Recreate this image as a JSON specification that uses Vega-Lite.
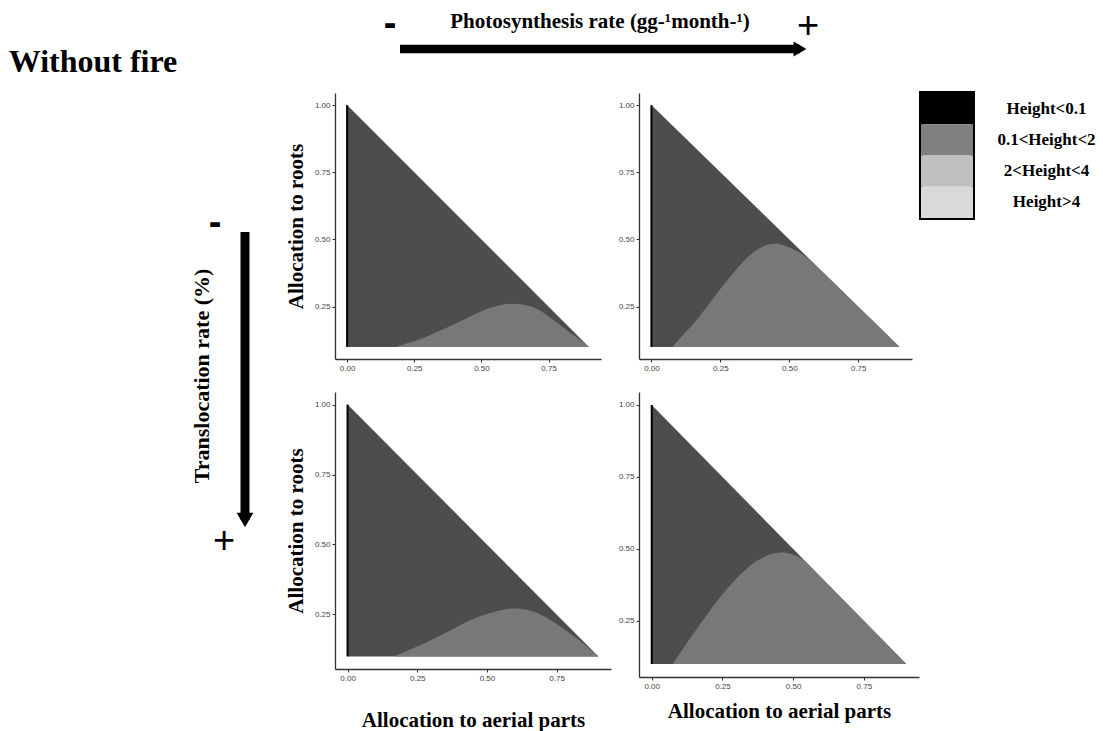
{
  "$schema": "https://vega.github.io/schema/vega-lite/v6.json",
  "background": "white",
  "padding": {"left": 0, "top": 6, "right": 2, "bottom": 2},
  "datasets": {
    "ends": [{"end": "-", "pos": 0}, {"end": "+", "pos": 1}],
    "titles": [{"label": "Without fire"}],
    "classes": [{"h": "Height<0.1"}, {"h": "0.1<Height<2"}, {"h": "2<Height<4"}, {"h": "Height>4"}],
    "regions": [
      {"p": "A", "part": "base", "a": 0, "r": 1.0},
      {"p": "A", "part": "base", "a": 0.9, "r": 0.1},
      {"p": "A", "part": "edge", "a": 0, "r": 0.1, "r2": 1.0},
      {"p": "A", "part": "hump", "a": 0.182, "r": 0.1},
      {"p": "A", "part": "hump", "a": 0.23, "r": 0.115},
      {"p": "A", "part": "hump", "a": 0.281, "r": 0.132},
      {"p": "A", "part": "hump", "a": 0.34, "r": 0.158},
      {"p": "A", "part": "hump", "a": 0.406, "r": 0.188},
      {"p": "A", "part": "hump", "a": 0.45, "r": 0.209},
      {"p": "A", "part": "hump", "a": 0.49, "r": 0.229},
      {"p": "A", "part": "hump", "a": 0.53, "r": 0.245},
      {"p": "A", "part": "hump", "a": 0.58, "r": 0.258},
      {"p": "A", "part": "hump", "a": 0.62, "r": 0.262},
      {"p": "A", "part": "hump", "a": 0.66, "r": 0.258},
      {"p": "A", "part": "hump", "a": 0.691, "r": 0.25},
      {"p": "A", "part": "hump", "a": 0.72, "r": 0.235},
      {"p": "A", "part": "hump", "a": 0.745, "r": 0.217},
      {"p": "A", "part": "hump", "a": 0.77, "r": 0.198},
      {"p": "A", "part": "hump", "a": 0.795, "r": 0.18},
      {"p": "A", "part": "hump", "a": 0.82, "r": 0.16},
      {"p": "A", "part": "hump", "a": 0.853, "r": 0.138},
      {"p": "A", "part": "hump", "a": 0.9, "r": 0.1},
      {"p": "B", "part": "base", "a": 0, "r": 1.0},
      {"p": "B", "part": "base", "a": 0.9, "r": 0.1},
      {"p": "B", "part": "edge", "a": 0, "r": 0.1, "r2": 1.0},
      {"p": "B", "part": "hump", "a": 0.077, "r": 0.1},
      {"p": "B", "part": "hump", "a": 0.11, "r": 0.14},
      {"p": "B", "part": "hump", "a": 0.15, "r": 0.182},
      {"p": "B", "part": "hump", "a": 0.18, "r": 0.222},
      {"p": "B", "part": "hump", "a": 0.21, "r": 0.262},
      {"p": "B", "part": "hump", "a": 0.24, "r": 0.302},
      {"p": "B", "part": "hump", "a": 0.271, "r": 0.343},
      {"p": "B", "part": "hump", "a": 0.3, "r": 0.38},
      {"p": "B", "part": "hump", "a": 0.331, "r": 0.417},
      {"p": "B", "part": "hump", "a": 0.36, "r": 0.445},
      {"p": "B", "part": "hump", "a": 0.391, "r": 0.467},
      {"p": "B", "part": "hump", "a": 0.415, "r": 0.479},
      {"p": "B", "part": "hump", "a": 0.445, "r": 0.486},
      {"p": "B", "part": "hump", "a": 0.476, "r": 0.481},
      {"p": "B", "part": "hump", "a": 0.512, "r": 0.465},
      {"p": "B", "part": "hump", "a": 0.55, "r": 0.446},
      {"p": "B", "part": "hump", "a": 0.6, "r": 0.4},
      {"p": "B", "part": "hump", "a": 0.7, "r": 0.3},
      {"p": "B", "part": "hump", "a": 0.8, "r": 0.2},
      {"p": "B", "part": "hump", "a": 0.9, "r": 0.1},
      {"p": "C", "part": "base", "a": 0, "r": 1.0},
      {"p": "C", "part": "base", "a": 0.9, "r": 0.1},
      {"p": "C", "part": "edge", "a": 0, "r": 0.1, "r2": 1.0},
      {"p": "C", "part": "hump", "a": 0.167, "r": 0.1},
      {"p": "C", "part": "hump", "a": 0.215, "r": 0.12},
      {"p": "C", "part": "hump", "a": 0.263, "r": 0.14},
      {"p": "C", "part": "hump", "a": 0.32, "r": 0.168},
      {"p": "C", "part": "hump", "a": 0.382, "r": 0.2},
      {"p": "C", "part": "hump", "a": 0.42, "r": 0.22},
      {"p": "C", "part": "hump", "a": 0.454, "r": 0.236},
      {"p": "C", "part": "hump", "a": 0.502, "r": 0.254},
      {"p": "C", "part": "hump", "a": 0.562, "r": 0.269},
      {"p": "C", "part": "hump", "a": 0.6, "r": 0.273},
      {"p": "C", "part": "hump", "a": 0.64, "r": 0.268},
      {"p": "C", "part": "hump", "a": 0.669, "r": 0.26},
      {"p": "C", "part": "hump", "a": 0.695, "r": 0.25},
      {"p": "C", "part": "hump", "a": 0.717, "r": 0.236},
      {"p": "C", "part": "hump", "a": 0.74, "r": 0.222},
      {"p": "C", "part": "hump", "a": 0.765, "r": 0.206},
      {"p": "C", "part": "hump", "a": 0.795, "r": 0.185},
      {"p": "C", "part": "hump", "a": 0.824, "r": 0.164},
      {"p": "C", "part": "hump", "a": 0.86, "r": 0.135},
      {"p": "C", "part": "hump", "a": 0.9, "r": 0.1},
      {"p": "D", "part": "base", "a": 0, "r": 1.0},
      {"p": "D", "part": "base", "a": 0.9, "r": 0.1},
      {"p": "D", "part": "edge", "a": 0, "r": 0.1, "r2": 1.0},
      {"p": "D", "part": "hump", "a": 0.074, "r": 0.1},
      {"p": "D", "part": "hump", "a": 0.105, "r": 0.145},
      {"p": "D", "part": "hump", "a": 0.139, "r": 0.194},
      {"p": "D", "part": "hump", "a": 0.168, "r": 0.235},
      {"p": "D", "part": "hump", "a": 0.198, "r": 0.275},
      {"p": "D", "part": "hump", "a": 0.228, "r": 0.315},
      {"p": "D", "part": "hump", "a": 0.257, "r": 0.351},
      {"p": "D", "part": "hump", "a": 0.286, "r": 0.384},
      {"p": "D", "part": "hump", "a": 0.316, "r": 0.414},
      {"p": "D", "part": "hump", "a": 0.345, "r": 0.44},
      {"p": "D", "part": "hump", "a": 0.375, "r": 0.461},
      {"p": "D", "part": "hump", "a": 0.405, "r": 0.477},
      {"p": "D", "part": "hump", "a": 0.434, "r": 0.486},
      {"p": "D", "part": "hump", "a": 0.465, "r": 0.489},
      {"p": "D", "part": "hump", "a": 0.495, "r": 0.482},
      {"p": "D", "part": "hump", "a": 0.516, "r": 0.474},
      {"p": "D", "part": "hump", "a": 0.535, "r": 0.463},
      {"p": "D", "part": "hump", "a": 0.56, "r": 0.44},
      {"p": "D", "part": "hump", "a": 0.6, "r": 0.4},
      {"p": "D", "part": "hump", "a": 0.7, "r": 0.3},
      {"p": "D", "part": "hump", "a": 0.8, "r": 0.2},
      {"p": "D", "part": "hump", "a": 0.9, "r": 0.1}
    ]
  },
  "spacing": 4,
  "hconcat": [
    {
      "width": 186,
      "height": 104,
      "data": {"name": "titles"},
      "mark": {"type": "text", "fontSize": 32, "align": "center", "baseline": "middle"},
      "encoding": {"text": {"field": "label"}}
    },
    {
      "spacing": 3,
      "vconcat": [
        {
          "width": 640,
          "height": 78,
          "data": {"name": "ends"},
          "encoding": {
            "x": {"field": "pos", "type": "quantitative", "scale": {"domain": [0, 1], "range": [195, 595]}, "axis": null}
          },
          "layer": [
            {"mark": {"type": "line", "color": "#000", "strokeWidth": 8.5, "strokeCap": "butt"}},
            {"transform": [{"filter": "datum.pos == 1"}], "mark": {"type": "point", "shape": "triangle-right", "filled": true, "size": 220, "color": "#000", "opacity": 1}},
            {"transform": [{"filter": "datum.pos == 0"}], "mark": {"type": "text", "font": "Liberation Sans", "fontSize": 38, "fontWeight": "bold", "baseline": "middle", "dx": -10, "dy": -24}, "encoding": {"text": {"field": "end"}}},
            {"transform": [{"filter": "datum.pos == 1"}], "mark": {"type": "text", "font": "Liberation Sans", "fontSize": 38, "fontWeight": "normal", "baseline": "middle", "dx": 8, "dy": -22}, "encoding": {"text": {"field": "end"}}},
            {"transform": [{"filter": "datum.pos == 0"}], "mark": {"type": "text", "fontSize": 21, "baseline": "middle", "dy": -27}, "encoding": {"x": {"datum": 0.5}, "text": {"value": "Photosynthesis rate (gg-¹month-¹)"}}}
          ]
        },
        {
          "spacing": 0,
          "hconcat": [
            {
              "width": 80,
              "height": 584,
              "data": {"name": "ends"},
              "encoding": {
                "y": {"field": "pos", "type": "quantitative", "scale": {"domain": [0, 1], "range": [139, 427]}, "axis": null}
              },
              "layer": [
                {"mark": {"type": "line", "color": "#000", "strokeWidth": 9, "strokeCap": "butt"}},
                {"transform": [{"filter": "datum.pos == 1"}], "mark": {"type": "point", "shape": "triangle-down", "filled": true, "size": 280, "color": "#000", "opacity": 1}},
                {"transform": [{"filter": "datum.pos == 0"}], "mark": {"type": "text", "font": "Liberation Sans", "fontSize": 38, "fontWeight": "bold", "baseline": "middle", "dx": -30, "dy": -8}, "encoding": {"text": {"field": "end"}}},
                {"transform": [{"filter": "datum.pos == 1"}], "mark": {"type": "text", "font": "Liberation Sans", "fontSize": 38, "fontWeight": "normal", "baseline": "middle", "dx": -21, "dy": 22}, "encoding": {"text": {"field": "end"}}},
                {"transform": [{"filter": "datum.pos == 0"}], "mark": {"type": "text", "fontSize": 22, "angle": 270, "baseline": "middle", "dy": -43}, "encoding": {"y": {"datum": 0.5}, "text": {"value": "Translocation rate (%)"}}}
              ]
            },
            {
              "columns": 2,
              "bounds": "flush",
              "align": "each",
              "spacing": {"row": 33, "column": 28},
              "concat": [
                {
                  "width": 266, "height": 266,
                  "data": {"name": "regions"},
                  "transform": [{"filter": "datum.p == 'A'"}],
                  "encoding": {
                    "x": {"field": "a", "type": "quantitative", "scale": {"domain": [-0.045, 0.945], "nice": false, "zero": false}, "axis": {"values": [0, 0.25, 0.5, 0.75], "format": ".2f", "title": null}},
                    "y": {"field": "r", "type": "quantitative", "scale": {"domain": [0.055, 1.045], "nice": false, "zero": false}, "axis": {"values": [0.25, 0.5, 0.75, 1], "format": ".2f", "title": "Allocation to roots", "titlePadding": 8}}
                  },
                  "layer": [
                    {"transform": [{"filter": "datum.part == 'base'"}], "mark": {"type": "area", "color": "#4d4d4d"}, "encoding": {"y2": {"datum": 0.1}}},
                    {"transform": [{"filter": "datum.part == 'hump'"}], "mark": {"type": "area", "color": "#787878", "interpolate": "basis"}, "encoding": {"y2": {"datum": 0.1}}},
                    {"transform": [{"filter": "datum.part == 'edge'"}], "mark": {"type": "rule", "color": "#000", "strokeWidth": 2}, "encoding": {"y2": {"field": "r2"}}}
                  ]
                },
                {
                  "width": 273, "height": 266,
                  "data": {"name": "regions"},
                  "transform": [{"filter": "datum.p == 'B'"}],
                  "encoding": {
                    "x": {"field": "a", "type": "quantitative", "scale": {"domain": [-0.045, 0.945], "nice": false, "zero": false}, "axis": {"values": [0, 0.25, 0.5, 0.75], "format": ".2f", "title": null}},
                    "y": {"field": "r", "type": "quantitative", "scale": {"domain": [0.055, 1.045], "nice": false, "zero": false}, "axis": {"values": [0.25, 0.5, 0.75, 1], "format": ".2f", "title": null}}
                  },
                  "layer": [
                    {"transform": [{"filter": "datum.part == 'base'"}], "mark": {"type": "area", "color": "#4d4d4d"}, "encoding": {"y2": {"datum": 0.1}}},
                    {"transform": [{"filter": "datum.part == 'hump'"}], "mark": {"type": "area", "color": "#787878", "interpolate": "basis"}, "encoding": {"y2": {"datum": 0.1}}},
                    {"transform": [{"filter": "datum.part == 'edge'"}], "mark": {"type": "rule", "color": "#000", "strokeWidth": 2}, "encoding": {"y2": {"field": "r2"}}}
                  ]
                },
                {
                  "width": 276, "height": 277,
                  "data": {"name": "regions"},
                  "transform": [{"filter": "datum.p == 'C'"}],
                  "encoding": {
                    "x": {"field": "a", "type": "quantitative", "scale": {"domain": [-0.045, 0.945], "nice": false, "zero": false}, "axis": {"values": [0, 0.25, 0.5, 0.75], "format": ".2f", "title": "Allocation to aerial parts", "titlePadding": 27}},
                    "y": {"field": "r", "type": "quantitative", "scale": {"domain": [0.055, 1.045], "nice": false, "zero": false}, "axis": {"values": [0.25, 0.5, 0.75, 1], "format": ".2f", "title": "Allocation to roots", "titlePadding": 8}}
                  },
                  "layer": [
                    {"transform": [{"filter": "datum.part == 'base'"}], "mark": {"type": "area", "color": "#4d4d4d"}, "encoding": {"y2": {"datum": 0.1}}},
                    {"transform": [{"filter": "datum.part == 'hump'"}], "mark": {"type": "area", "color": "#787878", "interpolate": "basis"}, "encoding": {"y2": {"datum": 0.1}}},
                    {"transform": [{"filter": "datum.part == 'edge'"}], "mark": {"type": "rule", "color": "#000", "strokeWidth": 2}, "encoding": {"y2": {"field": "r2"}}}
                  ]
                },
                {
                  "width": 280, "height": 285,
                  "data": {"name": "regions"},
                  "transform": [{"filter": "datum.p == 'D'"}],
                  "encoding": {
                    "x": {"field": "a", "type": "quantitative", "scale": {"domain": [-0.045, 0.945], "nice": false, "zero": false}, "axis": {"values": [0, 0.25, 0.5, 0.75], "format": ".2f", "title": "Allocation to aerial parts", "titlePadding": 10}},
                    "y": {"field": "r", "type": "quantitative", "scale": {"domain": [0.055, 1.045], "nice": false, "zero": false}, "axis": {"values": [0.25, 0.5, 0.75, 1], "format": ".2f", "title": null}}
                  },
                  "layer": [
                    {"transform": [{"filter": "datum.part == 'base'"}], "mark": {"type": "area", "color": "#4d4d4d"}, "encoding": {"y2": {"datum": 0.1}}},
                    {"transform": [{"filter": "datum.part == 'hump'"}], "mark": {"type": "area", "color": "#787878", "interpolate": "basis"}, "encoding": {"y2": {"datum": 0.1}}},
                    {"transform": [{"filter": "datum.part == 'edge'"}], "mark": {"type": "rule", "color": "#000", "strokeWidth": 2}, "encoding": {"y2": {"field": "r2"}}}
                  ]
                }
              ]
            },
            {
              "width": 52,
              "height": 125,
              "view": {"stroke": "#000", "strokeWidth": 4},
              "data": {"name": "classes"},
              "mark": {"type": "rect"},
              "encoding": {
                "y": {
                  "field": "h", "type": "nominal",
                  "sort": ["Height<0.1", "0.1<Height<2", "2<Height<4", "Height>4"],
                  "scale": {"paddingInner": 0, "paddingOuter": 0},
                  "axis": {"orient": "right", "title": null, "domain": false, "ticks": false, "labelFont": "Liberation Serif", "labelFontWeight": "bold", "labelFontSize": 17, "labelColor": "#000", "labelAlign": "center", "labelPadding": 73}
                },
                "fill": {
                  "field": "h", "type": "nominal",
                  "scale": {"domain": ["Height<0.1", "0.1<Height<2", "2<Height<4", "Height>4"], "range": ["#000000", "#808080", "#c0c0c0", "#d9d9d9"]},
                  "legend": null
                }
              }
            }
          ]
        }
      ]
    }
  ],
  "config": {
    "view": {"stroke": null},
    "axis": {
      "grid": false,
      "domainColor": "#333333",
      "domainWidth": 1.3,
      "tickColor": "#333333",
      "tickSize": 3,
      "labelFont": "Liberation Sans",
      "labelFontSize": 8,
      "labelColor": "#444444",
      "labelPadding": 2,
      "titleFont": "Liberation Serif",
      "titleFontSize": 21,
      "titleFontWeight": "bold",
      "titleColor": "#000000"
    },
    "text": {"font": "Liberation Serif", "fontWeight": "bold", "color": "#000000"}
  }
}
